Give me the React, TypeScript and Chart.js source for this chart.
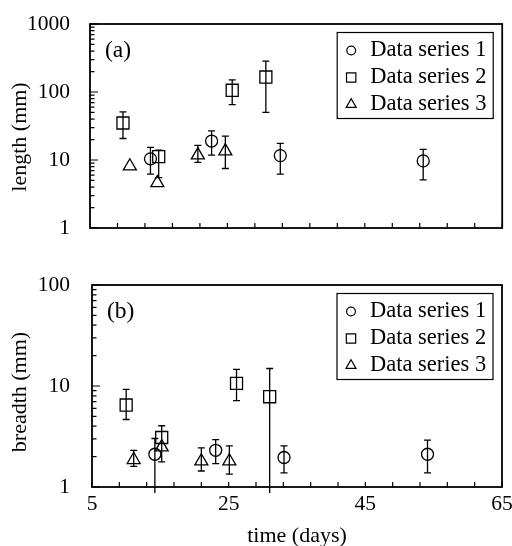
import { useEffect, useRef } from 'react';
import { Chart, registerables } from 'chart.js';
import { drawPoint } from 'chart.js/helpers';

Chart.register(...registerables);

const FONT = "'Liberation Serif', 'Times New Roman', serif";

// ---------- shared ----------
const seriesLabels = ['Data series 1', 'Data series 2', 'Data series 3'];
const seriesStyles = ['circle', 'rect', 'triangle'];
const plotRadius = [6, 8.5, 7.5];
const legendRadius = [4.4, 6.6, 5.8];
const xMin = 5;
const xMax = 65;
const xLabelTicks = [5, 25, 45, 65];
const xMinorStep = 4;
const xTitle = 'time (days)';

// ---------- panel (a): length (mm) ----------
const aYTicks = [1, 10, 100, 1000];
const aS1Day = [13.8, 22.7, 32.7, 53.5];
const aS1Val = [10.4, 19.0, 11.6, 9.7];
const aS1Lo = [6.2, 11.8, 6.2, 5.1];
const aS1Hi = [15.3, 26.9, 17.5, 14.3];

const aS2Day = [9.8, 15.0, 25.7, 30.6];
const aS2Val = [35, 11.2, 106, 166];
const aS2Lo = [20.7, 5.5, 65, 50];
const aS2Hi = [51, 14, 151, 284];

const aS3Day = [10.8, 14.8, 20.7, 24.7];
const aS3Val = [8.1, 4.6, 11.8, 13.5];
const aS3Lo: (number | null)[] = [null, null, 9.2, 7.5];
const aS3Hi: (number | null)[] = [null, null, 16.4, 22.5];

// ---------- panel (b): breadth (mm) ----------
const bYTicks = [1, 10, 100];
const bS1Day = [14.2, 23.1, 33.1, 54.1];
const bS1Val = [2.11, 2.31, 1.96, 2.11];
const bS1Lo = [0.87, 1.7, 1.38, 1.38];
const bS1Hi = [3.02, 2.95, 2.55, 2.91];

const bS2Day = [10.0, 15.2, 26.15, 31.0];
const bS2Val = [6.48, 3.09, 10.6, 7.83];
const bS2Lo = [4.66, 1.77, 7.15, 0.87];
const bS2Hi = [9.27, 4.04, 14.6, 14.9];

const bS3Day = [11.1, 15.2, 21.0, 25.1];
const bS3Val = [1.86, 2.48, 1.8, 1.8];
const bS3Lo: (number | null)[] = [1.6, null, 1.44, 1.34];
const bS3Hi: (number | null)[] = [2.31, null, 2.44, 2.55];

type Pt = { x: number; y: number; lo: number | null; hi: number | null };

function build(day: number[], val: number[], lo: (number | null)[], hi: (number | null)[]): Pt[] {
  return day.map((d, i) => ({ x: d, y: val[i], lo: lo[i], hi: hi[i] }));
}

interface PanelSpec {
  height: number;
  plotLeft: number;
  padRight: number;
  padTop: number;
  plotBottom: number;
  yMax: number;
  yTicks: number[];
  yLabelPad: number;
  series: Pt[][];
  yTitle: string;
  yTitleY: number;
  tag: string;
  showX: boolean;
}

const decorPlugin = {
  id: 'decor',
  afterDatasetsDraw(chart: any, _args: any, opts: any) {
    const { ctx, chartArea: ca } = chart;
    const xs = chart.scales.x;
    const ys = chart.scales.y;
    ctx.save();
    ctx.strokeStyle = '#000';
    ctx.fillStyle = '#000';

    // error bars
    ctx.lineWidth = 1.3;
    chart.data.datasets.forEach((ds: any) => {
      (ds.data as Pt[]).forEach((p) => {
        if (p.lo == null || p.hi == null) return;
        const x = xs.getPixelForValue(p.x);
        const y1 = ys.getPixelForValue(p.hi);
        const y2 = ys.getPixelForValue(p.lo);
        ctx.beginPath();
        ctx.moveTo(x, y1);
        ctx.lineTo(x, y2);
        ctx.moveTo(x - 3.5, y1);
        ctx.lineTo(x + 3.5, y1);
        if (p.lo >= ys.min) {
          ctx.moveTo(x - 3.5, y2);
          ctx.lineTo(x + 3.5, y2);
        }
        ctx.stroke();
      });
    });

    // frame
    ctx.lineWidth = 1.8;
    ctx.strokeRect(ca.left, ca.top, ca.right - ca.left, ca.bottom - ca.top);

    // inward ticks
    ctx.lineWidth = 1.2;
    ctx.beginPath();
    for (let v = xMin; v <= xMax; v += xMinorStep) {
      const px = xs.getPixelForValue(v);
      ctx.moveTo(px, ca.bottom);
      ctx.lineTo(px, ca.bottom - 5);
    }
    const maxExp = Math.round(Math.log10(ys.max));
    for (let e = 0; e < maxExp; e++) {
      for (let m = 1; m <= 10; m++) {
        const v = m * Math.pow(10, e);
        const py = ys.getPixelForValue(v);
        const len = m === 1 || m === 10 ? 8 : 4.5;
        ctx.moveTo(ca.left, py);
        ctx.lineTo(ca.left + len, py);
      }
    }
    ctx.stroke();

    // legend
    const bw = 156;
    const bh = 86;
    const bx = ca.right - 9 - bw;
    const by = ca.top + 8.5;
    ctx.lineWidth = 1.2;
    ctx.strokeRect(bx, by, bw, bh);
    ctx.font = `22.5px ${FONT}`;
    ctx.textBaseline = 'middle';
    ctx.textAlign = 'left';
    chart.data.datasets.forEach((ds: any, i: number) => {
      const ry = by + 18 + i * 27;
      ctx.save();
      ctx.fillStyle = 'rgba(0,0,0,0)';
      ctx.strokeStyle = '#000';
      drawPoint(ctx, { pointStyle: ds.pointStyle, radius: legendRadius[i], borderWidth: 1.2, rotation: 0 } as any, bx + 14, ry);
      ctx.restore();
      ctx.fillStyle = '#000';
      ctx.fillText(ds.label, bx + 33, ry);
    });

    // panel tag
    ctx.font = `23.5px ${FONT}`;
    ctx.fillText(opts.tag, ca.left + 15, ca.top + 27);

    // y title
    ctx.save();
    ctx.translate(20, opts.yTitleY);
    ctx.rotate(-Math.PI / 2);
    ctx.textAlign = 'center';
    ctx.textBaseline = 'middle';
    ctx.font = `22px ${FONT}`;
    ctx.fillText(opts.yTitle, 0, 0);
    ctx.restore();

    ctx.restore();
  },
};

function makeConfig(spec: PanelSpec): any {
  return {
    type: 'scatter',
    data: {
      datasets: spec.series.map((pts, i) => ({
        label: seriesLabels[i],
        data: pts,
        pointStyle: seriesStyles[i],
        pointRadius: plotRadius[i],
        pointBorderWidth: 1.3,
        pointBorderColor: '#000',
        pointBackgroundColor: 'rgba(0,0,0,0)',
        showLine: false,
      })),
    },
    options: {
      responsive: false,
      animation: false,
      events: [],
      layout: { padding: { left: 0, right: spec.padRight, top: spec.padTop, bottom: 0 } },
      plugins: {
        legend: { display: false },
        tooltip: { enabled: false },
        decor: { tag: spec.tag, yTitle: spec.yTitle, yTitleY: spec.yTitleY },
      },
      scales: {
        x: {
          type: 'linear',
          min: xMin,
          max: xMax,
          afterBuildTicks: (s: any) => {
            s.ticks = xLabelTicks.map((v) => ({ value: v }));
          },
          ticks: {
            display: spec.showX,
            autoSkip: false,
            maxRotation: 0,
            padding: 4,
            color: '#000',
            font: { family: FONT, size: 21.5 },
            callback: (v: any) => String(v),
          },
          grid: { display: false, drawTicks: false },
          border: { display: false },
          title: {
            display: spec.showX,
            text: xTitle,
            color: '#000',
            font: { family: FONT, size: 22 },
            padding: { top: 0, bottom: -3 },
          },
          afterFit: (s: any) => {
            s.height = spec.height - spec.plotBottom;
            s.paddingLeft = 0;
            s.paddingRight = 0;
          },
        },
        y: {
          type: 'logarithmic',
          min: 1,
          max: spec.yMax,
          afterBuildTicks: (s: any) => {
            s.ticks = spec.yTicks.map((v) => ({ value: v }));
          },
          ticks: {
            autoSkip: false,
            padding: spec.yLabelPad,
            color: '#000',
            font: { family: FONT, size: 21.5 },
            callback: (v: any) => String(v),
          },
          grid: { display: false, drawTicks: false },
          border: { display: false },
          afterFit: (s: any) => {
            s.width = spec.plotLeft;
            s.paddingTop = 0;
            s.paddingBottom = 0;
          },
        },
      },
    },
    plugins: [decorPlugin],
  };
}

const panelA: PanelSpec = {
  height: 270,
  plotLeft: 90,
  padRight: 9,
  padTop: 24,
  plotBottom: 228,
  yMax: 1000,
  yTicks: aYTicks,
  yLabelPad: 20,
  series: [build(aS1Day, aS1Val, aS1Lo, aS1Hi), build(aS2Day, aS2Val, aS2Lo, aS2Hi), build(aS3Day, aS3Val, aS3Lo, aS3Hi)],
  yTitle: 'length (mm)',
  yTitleY: 137,
  tag: '(a)',
  showX: false,
};

const panelB: PanelSpec = {
  height: 276,
  plotLeft: 92,
  padRight: 10,
  padTop: 15,
  plotBottom: 217,
  yMax: 100,
  yTicks: bYTicks,
  yLabelPad: 22,
  series: [build(bS1Day, bS1Val, bS1Lo, bS1Hi), build(bS2Day, bS2Val, bS2Lo, bS2Hi), build(bS3Day, bS3Val, bS3Lo, bS3Hi)],
  yTitle: 'breadth (mm)',
  yTitleY: 122,
  tag: '(b)',
  showX: true,
};

function Panel({ spec, top }: { spec: PanelSpec; top: number }) {
  const ref = useRef<HTMLCanvasElement | null>(null);
  useEffect(() => {
    if (!ref.current) return;
    const chart = new Chart(ref.current, makeConfig(spec));
    return () => chart.destroy();
  }, [spec]);
  return (
    <div style={{ position: 'absolute', left: 0, top, width: 512, height: spec.height }}>
      <canvas ref={ref} width={512} height={spec.height} style={{ width: 512, height: spec.height, display: 'block' }} />
    </div>
  );
}

export default function App() {
  return (
    <div style={{ position: 'absolute', left: 0, top: 0, width: 512, height: 546, background: '#fff', overflow: 'hidden' }}>
      <Panel spec={panelA} top={0} />
      <Panel spec={panelB} top={270} />
    </div>
  );
}
